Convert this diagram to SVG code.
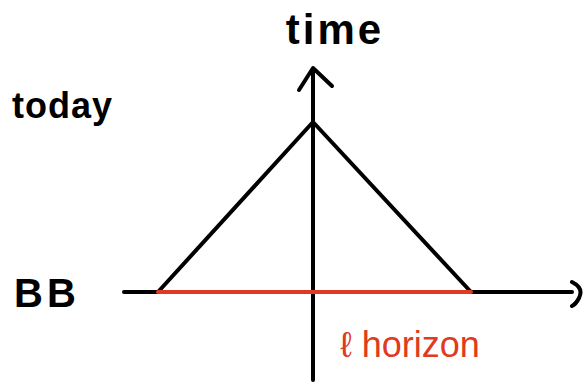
<svg xmlns="http://www.w3.org/2000/svg" width="585" height="382" viewBox="0 0 585 382">
<style>
.ln{stroke:#000;stroke-width:4;fill:none;stroke-linecap:round;stroke-linejoin:round}
.red{stroke:#e03a22;stroke-width:4;fill:none;stroke-linecap:round}
.lbl{font-family:"Liberation Sans",Arial,sans-serif;font-weight:bold;fill:#000}
</style>
<rect width="585" height="382" fill="#fff"/>
<g id="connectors">
<path class="ln" d="M124 292 H572"/>
<path class="ln" d="M572 282 Q584 288 579 298 Q576 304 572 306"/>
<path class="ln" d="M313 380 V72"/>
<path class="ln" d="M299 90 L313 68 L332 86"/>
<path class="ln" d="M158 292 L313 122 L471 292"/>
<path class="red" d="M158 292 H471"/>
</g>
<g id="time"><text class="lbl" x="335" y="44" font-size="42" letter-spacing="3" text-anchor="middle">time</text></g>
<g id="today"><text class="lbl" x="12" y="118" font-size="36" letter-spacing="1">today</text></g>
<g id="BB"><text class="lbl" x="14" y="307" font-size="40" letter-spacing="4">BB</text></g>
<g id="horizon"><text x="340" y="357" font-size="36" font-family="Liberation Sans,Arial,sans-serif" fill="#e03a22">ℓ horizon</text></g>
</svg>
